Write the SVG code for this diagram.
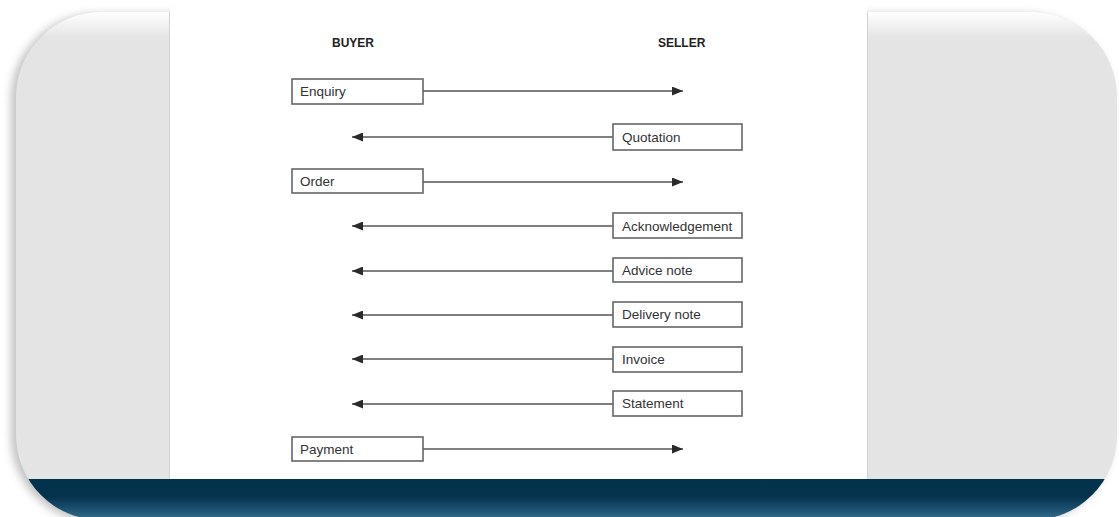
<svg xmlns="http://www.w3.org/2000/svg" width="1119" height="517" viewBox="0 0 1119 517">
<defs>
<style>
.box{fill:#fff;stroke:#666;stroke-width:1.6}
.lbl{font-family:"Liberation Sans",Arial,sans-serif;font-size:13.5px;fill:#333}
.hdr{font-family:"Liberation Sans",Arial,sans-serif;font-size:12px;font-weight:bold;fill:#222}
.conn{stroke:#555;stroke-width:1.4;fill:none}
</style>
<marker id="ah" viewBox="0 0 11 9" refX="11" refY="4.5" markerWidth="11" markerHeight="9" markerUnits="userSpaceOnUse" orient="auto">
<path d="M0,0 L11,4.5 L0,9 Z" fill="#2a2a2a"/>
</marker>
<clipPath id="frame"><rect x="16" y="12" width="1101" height="508" rx="85" ry="85"/></clipPath>
<linearGradient id="band" x1="0" y1="0" x2="0" y2="1">
<stop offset="0" stop-color="#03324d"/>
<stop offset="0.4" stop-color="#05334e"/>
<stop offset="0.75" stop-color="#245a7a"/>
<stop offset="1" stop-color="#4a7f9f"/>
</linearGradient>
<linearGradient id="hl" x1="0" y1="0" x2="0" y2="1">
<stop offset="0" stop-color="#ffffff" stop-opacity="1"/>
<stop offset="1" stop-color="#ffffff" stop-opacity="0"/>
</linearGradient>
<filter id="sh" x="-5%" y="-5%" width="110%" height="115%"><feGaussianBlur stdDeviation="4"/></filter>
</defs>
<rect width="1119" height="517" fill="#fff"/>
<rect x="11" y="14" width="1101" height="508" rx="85" ry="85" fill="#9a9a9a" opacity="0.6" filter="url(#sh)"/>
<g clip-path="url(#frame)">
<rect x="16" y="12" width="1101" height="508" fill="#e4e4e4"/>
<rect x="16" y="12" width="1101" height="26" fill="url(#hl)"/>
<rect x="170" y="8" width="697" height="472" fill="#fff"/>
<line x1="169.5" y1="12" x2="169.5" y2="479" stroke="#d2d2d2" stroke-width="1"/>
<line x1="867.5" y1="12" x2="867.5" y2="479" stroke="#d2d2d2" stroke-width="1"/>
<rect x="16" y="479" width="1101" height="45" fill="url(#band)"/>
</g>
<rect x="170" y="6" width="697" height="8" fill="#fff"/>
<g id="buyer-header"><text class="hdr" x="332" y="47">BUYER</text></g>
<g id="seller-header"><text class="hdr" x="658" y="47">SELLER</text></g>
<g id="connectors">
<line class="conn" x1="423" y1="91" x2="683" y2="91" marker-end="url(#ah)"/>
<line class="conn" x1="613" y1="137" x2="352" y2="137" marker-end="url(#ah)"/>
<line class="conn" x1="423" y1="182" x2="683" y2="182" marker-end="url(#ah)"/>
<line class="conn" x1="613" y1="226" x2="352" y2="226" marker-end="url(#ah)"/>
<line class="conn" x1="613" y1="271" x2="352" y2="271" marker-end="url(#ah)"/>
<line class="conn" x1="613" y1="315" x2="352" y2="315" marker-end="url(#ah)"/>
<line class="conn" x1="613" y1="359" x2="352" y2="359" marker-end="url(#ah)"/>
<line class="conn" x1="613" y1="404" x2="352" y2="404" marker-end="url(#ah)"/>
<line class="conn" x1="423" y1="449" x2="683" y2="449" marker-end="url(#ah)"/>
</g>
<g id="enquiry"><rect class="box" x="292" y="79" width="131" height="25"/><text class="lbl" x="300" y="96">Enquiry</text></g>
<g id="quotation"><rect class="box" x="613" y="124" width="129" height="26"/><text class="lbl" x="622" y="142">Quotation</text></g>
<g id="order"><rect class="box" x="292" y="169" width="131" height="24"/><text class="lbl" x="300" y="186">Order</text></g>
<g id="acknowledgement"><rect class="box" x="613" y="213" width="129" height="25"/><text class="lbl" x="622" y="231">Acknowledgement</text></g>
<g id="advice-note"><rect class="box" x="613" y="258" width="129" height="24"/><text class="lbl" x="622" y="275">Advice note</text></g>
<g id="delivery-note"><rect class="box" x="613" y="302" width="129" height="25"/><text class="lbl" x="622" y="319">Delivery note</text></g>
<g id="invoice"><rect class="box" x="613" y="347" width="129" height="25"/><text class="lbl" x="622" y="364">Invoice</text></g>
<g id="statement"><rect class="box" x="613" y="391" width="129" height="25"/><text class="lbl" x="622" y="408">Statement</text></g>
<g id="payment"><rect class="box" x="292" y="437" width="131" height="24"/><text class="lbl" x="300" y="454">Payment</text></g>
</svg>
